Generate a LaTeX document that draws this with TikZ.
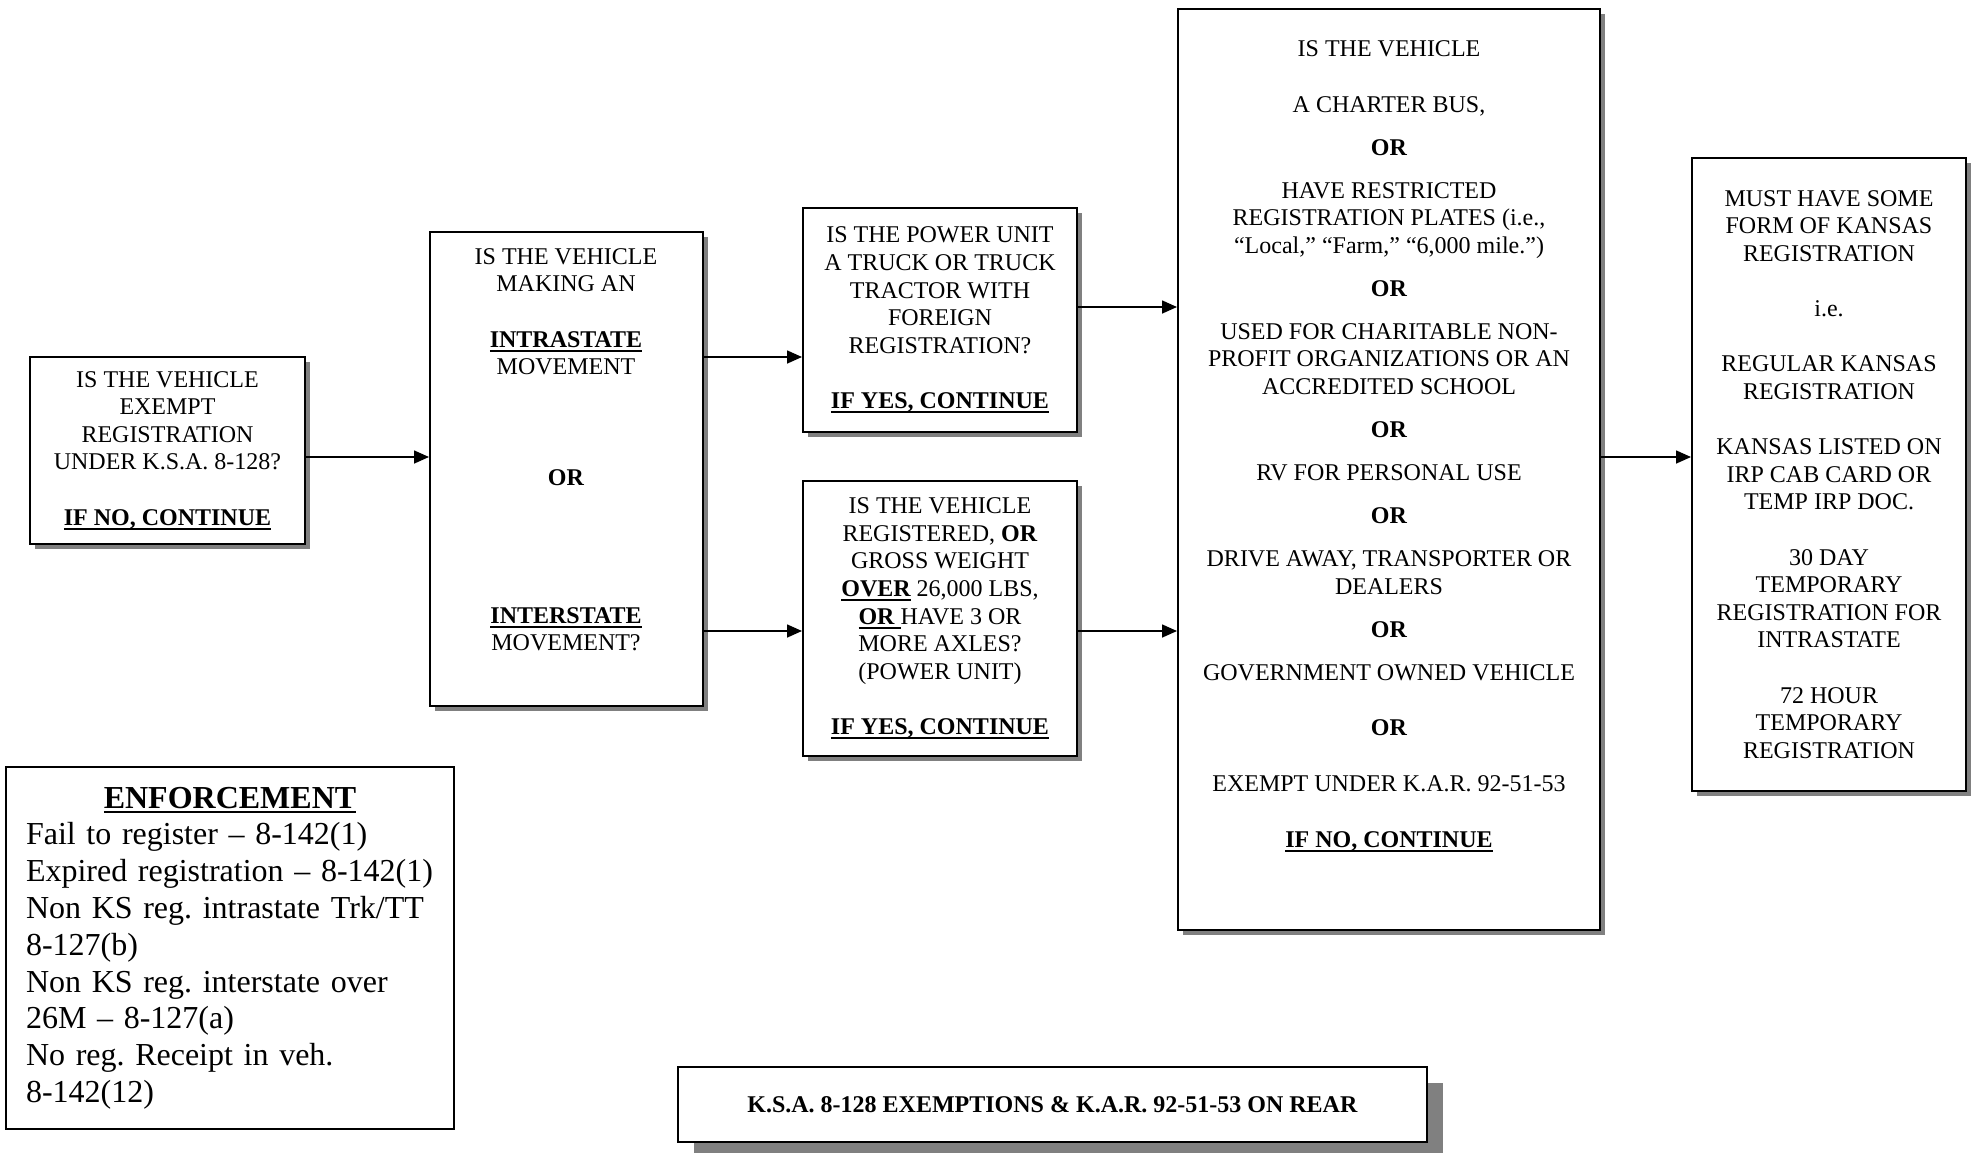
\documentclass[tikz,border=0pt]{standalone}
\usepackage{fontspec}
\setmainfont{Liberation Serif}
\frenchspacing
\usetikzlibrary{arrows.meta,shadows,positioning}

% thick underline, as in the printed form
\newcommand{\uln}[1]{\leavevmode\setbox0\hbox{#1}\rlap{\vrule width \wd0 height -1.4pt depth 2.3pt}\box0}

\tikzset{
  plainbox/.style={draw, line width=1pt, fill=white, align=center, inner sep=0pt,
    font=\fontsize{12}{13.8}\selectfont},
  greyshadow/.style={drop shadow={shadow xshift=#1, shadow yshift=-#1, fill=gray, opacity=1}},
  greyshadow/.default=2.5pt,
  box/.style={plainbox, greyshadow},
  flowtext/.style={align=center, inner sep=0pt, font=\fontsize{12}{13.8}\selectfont},
  flow/.style={->, line width=0.8pt},
}

\begin{document}
\begin{tikzpicture}[x=0.5pt, y=-0.5pt, >={Triangle[length=7.5pt,width=6.5pt]}]
  \useasboundingbox (0,0) rectangle (1976,1152);

  % first question
  \node[box, minimum width=137.5pt, minimum height=93.5pt] (exempt) at (167.5,450.5)
    {IS THE VEHICLE\\EXEMPT\\REGISTRATION\\UNDER K.S.A. 8-128?\\[13.8pt]\textbf{\uln{IF NO, CONTINUE}}};

  % movement
  \node[box, minimum width=136.5pt, minimum height=237pt] (move) at (566.5,469) {};
  \node[flowtext, anchor=north] (movetext) at (566,248)
    {IS THE VEHICLE\\MAKING AN\\[13.8pt]\textbf{\uln{INTRASTATE}}\\MOVEMENT\\[41.4pt]%
     \textbf{OR}\\[55.2pt]\textbf{\uln{INTERSTATE}}\\MOVEMENT?};

  % intrastate / interstate questions
  \node[box, minimum width=137pt, minimum height=112pt] (power) at (940,320)
    {IS THE POWER UNIT\\A TRUCK OR TRUCK\\TRACTOR WITH\\FOREIGN\\REGISTRATION?\\[13.8pt]%
     \textbf{\uln{IF YES, CONTINUE}}};
  \node[box, minimum width=137pt, minimum height=137.5pt] (reg) at (940,618.5)
    {IS THE VEHICLE\\REGISTERED, \textbf{OR}\\GROSS WEIGHT\\\textbf{\uln{OVER}} 26,000 LBS,\\%
     \textbf{\uln{OR }}HAVE 3 OR\\MORE AXLES?\\(POWER UNIT)\\[13.8pt]\textbf{\uln{IF YES, CONTINUE}}};

  % exemptions
  \node[box, minimum width=211pt, minimum height=460.5pt] (veh) at (1389,469.5) {};
  \node[flowtext, anchor=north] (vehtext) at (1389,40)
    {IS THE VEHICLE\\[14.1pt]
     A CHARTER BUS,\\[7.7pt]
     \textbf{OR}\\[7.7pt]
     HAVE RESTRICTED\\
     REGISTRATION PLATES (i.e.,\\
     “Local,” “Farm,” “6,000 mile.”)\\[7.7pt]
     \textbf{OR}\\[7.7pt]
     USED FOR CHARITABLE NON-\\
     PROFIT ORGANIZATIONS OR AN\\
     ACCREDITED SCHOOL\\[7.7pt]
     \textbf{OR}\\[7.7pt]
     RV FOR PERSONAL USE\\[7.7pt]
     \textbf{OR}\\[7.7pt]
     DRIVE AWAY, TRANSPORTER OR\\
     DEALERS\\[7.7pt]
     \textbf{OR}\\[7.7pt]
     GOVERNMENT OWNED VEHICLE\\[14.1pt]
     \textbf{OR}\\[14.1pt]
     EXEMPT UNDER K.A.R. 92-51-53\\[14.1pt]
     \textbf{\uln{IF NO, CONTINUE}}};

  % result
  \node[box, minimum width=137pt, minimum height=316.5pt] (must) at (1829,474.5)
    {MUST HAVE SOME\\FORM OF KANSAS\\REGISTRATION\\[13.8pt]i.e.\\[13.8pt]%
     REGULAR KANSAS\\REGISTRATION\\[13.8pt]KANSAS LISTED ON\\IRP CAB CARD OR\\TEMP IRP DOC.\\[13.8pt]%
     30 DAY\\TEMPORARY\\REGISTRATION FOR\\INTRASTATE\\[13.8pt]72 HOUR\\TEMPORARY\\REGISTRATION};

  % notes
  \node[plainbox, minimum width=224pt, minimum height=181pt, text width=204pt, align=left,
    font=\fontsize{16}{18.4}\selectfont] (enforce) at (230,948)
    {\makebox[204pt]{\textbf{\uln{ENFORCEMENT}}}\\
     Fail to register – 8-142(1)\\
     Expired registration – 8-142(1)\\
     Non KS reg. intrastate Trk/TT\\
     8-127(b)\\
     Non KS reg. interstate over\\
     26M – 8-127(a)\\
     No reg. Receipt in veh.\\
     8-142(12)};
  \node[plainbox, greyshadow=8pt, minimum width=374.5pt, minimum height=37.5pt] (rear) at (1052.5,1104.5)
    {\textbf{K.S.A. 8-128 EXEMPTIONS \& K.A.R. 92-51-53 ON REAR}};

  % connectors
  \draw[flow] ([yshift=-3.25pt]exempt.east) coordinate (outexempt) -- (outexempt -| move.west);
  \coordinate (inpower) at ([yshift=-18.5pt]power.west);
  \coordinate (inreg) at ([yshift=-6.25pt]reg.west);
  \draw[flow] (inpower -| move.east) -- (inpower);
  \draw[flow] (inreg -| move.east) -- (inreg);
  \draw[flow] ([yshift=6.5pt]power.east) coordinate (outpower) -- (outpower -| veh.west);
  \draw[flow] ([yshift=-6.25pt]reg.east) coordinate (outreg) -- (outreg -| veh.west);
  \draw[flow] ([yshift=6.25pt]veh.east) coordinate (outveh) -- (outveh -| must.west);
\end{tikzpicture}
\end{document}
